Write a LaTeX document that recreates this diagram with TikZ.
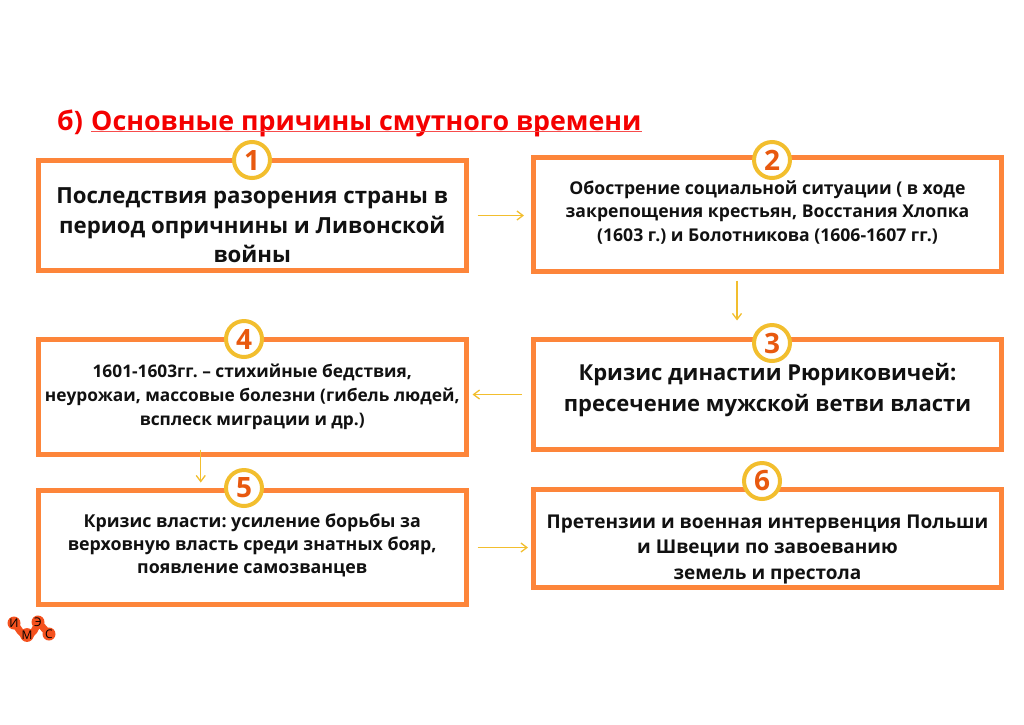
\documentclass[tikz,border=0pt]{standalone}
\usepackage{fontspec}
\setmainfont{Open Sans}
\usetikzlibrary{arrows.meta, positioning, calc, backgrounds}
\definecolor{cframe}{HTML}{FD853A}
\definecolor{cring}{HTML}{F2BE2E}
\definecolor{cnum}{HTML}{E8590F}
\definecolor{cred}{HTML}{F40000}
\definecolor{ctext}{HTML}{111111}
\definecolor{clogo}{HTML}{F4511E}
\frenchspacing
\tikzset{
  every picture/.style={font=\bfseries, x=1pt, y=-1pt},
  box/.style={draw=cframe, line width=5pt, fill=white, anchor=north west, outer sep=0pt, inner sep=0pt},
  boxtext/.style={align=center, text=ctext, inner sep=0pt},
  numring/.style={circle, draw=cring, fill=white, line width=4pt, minimum size=36pt, inner sep=0pt, text=cnum, font=\bfseries\fontsize{28}{30}\selectfont},
  arrow/.style={-{Straight Barb[length=6pt, width=9pt]}, draw=cring, line width=1.3pt},
  title/.style={font=\bfseries\fontsize{26.8}{30}\selectfont, text=cred, anchor=base west, inner sep=0pt},
  logodot/.style={circle, fill=clogo, minimum size=13pt, inner sep=0pt, text=black, font=\mdseries\fontsize{12}{12}\selectfont},
}
\begin{document}
\begin{tikzpicture}
  \useasboundingbox (0,0) rectangle (1024,724);
  \node[title] (head) at (57,130) {б)};
  \node[title] (headline) at (91,130) {Основные причины смутного времени};
  \draw[cred!70, line width=0.4pt] ([yshift=-0.7pt]headline.base west) -- ([yshift=-0.7pt]headline.base east);
  % boxes
  \node[box, minimum width=427.5pt, minimum height=110pt] (b1) at (38.5,160.5) {};
  \node[box, minimum width=468pt, minimum height=114pt] (b2) at (533.5,157.5) {};
  \node[box, minimum width=468pt, minimum height=110pt] (b3) at (533.5,339.5) {};
  \node[box, minimum width=427.5pt, minimum height=115pt] (b4) at (38.5,339.5) {};
  \node[box, minimum width=427.5pt, minimum height=114pt] (b5) at (38.5,490.5) {};
  \node[box, minimum width=468pt, minimum height=98pt] (b6) at (533.5,489.5) {};
  % box texts
  \node[boxtext, font=\bfseries\fontsize{22.2}{29.5}\selectfont] (t1) at ([yshift=-10pt]b1.center) {Последствия разорения страны в\\период опричнины и Ливонской\\войны};
  \node[boxtext, font=\bfseries\fontsize{17.6}{23.5}\selectfont] (t2) at ([yshift=2pt]b2.center) {Обострение социальной ситуации ( в ходе\\закрепощения крестьян, Восстания Хлопка\\(1603 г.) и Болотникова (1606-1607 гг.)};
  \node[boxtext, font=\bfseries\fontsize{22}{31}\selectfont] (t3) at ([yshift=4pt]b3.center) {Кризис династии Рюриковичей:\\пресечение мужской ветви власти};
  \node[boxtext, font=\bfseries\fontsize{17.3}{24}\selectfont] (t4) at (b4.center) {1601-1603гг. -- стихийные бедствия,\\неурожаи, массовые болезни (гибель людей,\\всплеск миграции и др.)};
  \node[boxtext, font=\bfseries\fontsize{17.8}{23}\selectfont] (t5) at ([yshift=2pt]b5.center) {Кризис власти: усиление борьбы за\\верховную власть среди знатных бояр,\\появление самозванцев};
  \node[boxtext, font=\bfseries\fontsize{19}{25.5}\selectfont] (t6) at ([yshift=-10.5pt]b6.center) {Претензии и военная интервенция Польши\\и Швеции по завоеванию\\земель и престола};
  % number rings
  \foreach \n/\x/\y in {1/252/160, 2/772/160, 3/772/343, 4/244/339, 5/244/488, 6/762/481} {
    \node[numring] (n\n) at (\x,\y) {\n};
  }
  % arrows
  \draw[arrow, shorten <=11.5pt, shorten >=9.5pt] (b1.east) -- (b1.east -| b2.west);
  \draw[arrow, shorten <=9pt, shorten >=19pt] ([xshift=-30.5pt]b2.south) -- ([xshift=-30.5pt]b3.north);
  \draw[arrow, shorten <=11.5pt, shorten >=6.5pt] (b3.west) -- (b3.west -| b4.east);
  \draw[arrow, shorten <=-5pt, shorten >=8pt] ([xshift=-51.5pt]b4.south) -- ([xshift=-51.5pt]b5.north);
  \draw[arrow, shorten <=11.5pt, shorten >=5.5pt] (b5.east) -- (b5.east -| b6.west);
  % logo
  \node[logodot] (l1) at (14,623) {И};
  \node[logodot] (l2) at (27,635) {М};
  \node[logodot] (l3) at (38,622) {Э};
  \node[logodot] (l4) at (49,634) {С};
  \begin{scope}[on background layer]
    \draw[clogo, line width=7pt] (l1.center) to[out=-45, in=180] (l2.center) to[out=0, in=-110] (l3.center) to[out=-45, in=135] (l4.center);
  \end{scope}
\end{tikzpicture}
\end{document}
